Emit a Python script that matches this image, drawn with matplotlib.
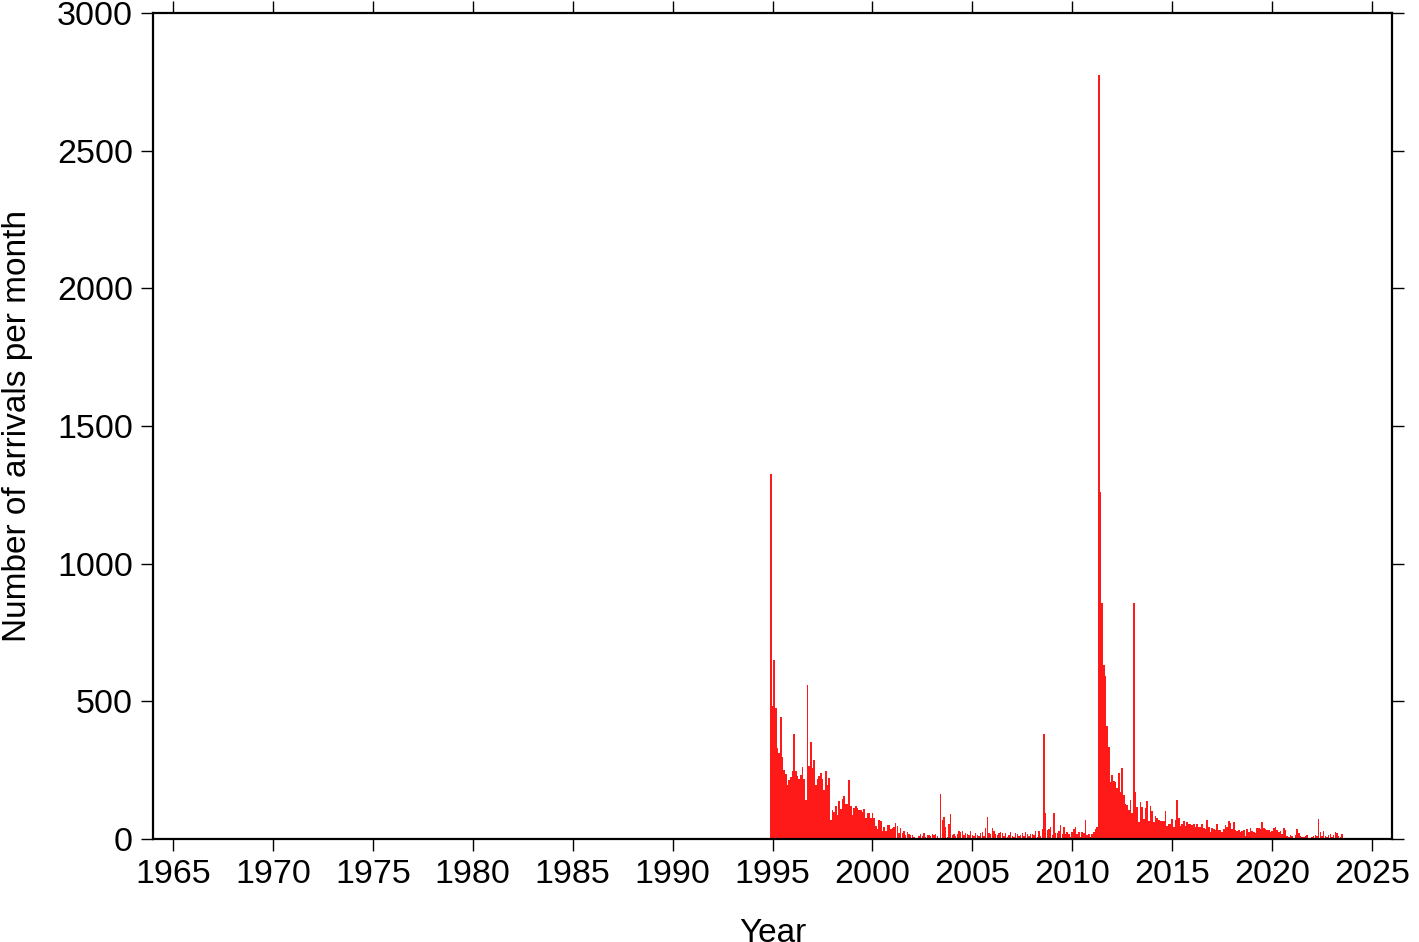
import numpy as np
import matplotlib.pyplot as plt

plt.rcParams['font.family'] = ['Liberation Sans', 'DejaVu Sans']

# monthly counts, first bar = Dec 1994
start_year = 1994 + 11/12

counts_1994_2000 = [1326, 482, 650, 476, 329, 313, 444, 299, 250, 236, 197, 214,
                    224, 246, 381, 246, 230, 217, 232, 260, 219, 142, 560, 265,
                    351, 258, 287, 197, 217, 229, 240, 219, 177, 248, 197, 223,
                    69, 107, 98, 121, 86, 138, 110, 144, 157, 127, 128, 215,
                    121, 87, 113, 120, 114, 104, 107, 97, 110, 77, 96, 94,
                    77, 94, 77, 47, 38, 70, 67, 28, 42, 30, 52]

counts_2000_2008 = [51, 35, 40, 42, 58, 47, 21, 39, 22, 30, 16, 24,
                    18, 15, 15, 8, 4, 2, 12, 18, 12, 21, 7, 16,
                    15, 11, 18, 15, 18, 11, 2, 163, 70, 79, 42, 6,
                    54, 91, 16, 18, 12, 18, 30, 24, 30, 16, 21, 18,
                    16, 30, 13, 12, 21, 15, 12, 21, 24, 12, 40, 79,
                    21, 18, 40, 30, 18, 15, 23, 27, 21, 12, 21, 8,
                    15, 27, 12, 6, 21, 18, 10, 15, 21, 12, 24, 18,
                    10, 18, 18, 15, 28, 6, 30, 10, 35, 380]

counts_2008_2013 = [96, 33, 38, 45, 15, 96, 20, 20, 29, 51, 18, 45,
                    18, 24, 18, 9, 27, 36, 42, 18, 27, 9, 24, 20,
                    69, 13, 18, 9, 18, 24, 36, 42,
                    2775, 1261, 857, 633, 591, 409, 333, 206, 233, 209, 206, 187,
                    238, 169, 257, 160, 127, 124, 106, 142, 96, 857]

counts_2013_2023 = [172, 117, 60, 136, 115, 73, 111, 139, 67, 121,
                    103, 61, 84, 76, 69, 67, 64, 64, 103, 48,
                    54, 54, 73, 45, 70, 142, 76, 48, 54, 64,
                    48, 63, 54, 54, 51, 54, 45, 54, 45, 45,
                    54, 40, 35, 69, 45, 24, 40, 36, 33, 54,
                    33, 33, 24, 36, 52, 45, 64, 57, 36, 61,
                    34, 30, 33, 24, 30, 33, 10, 36, 24, 40,
                    30, 24, 21, 40, 40, 36, 63, 40, 36, 33,
                    33, 24, 30, 40, 45, 33, 24, 30, 18, 40,
                    33, 12, 6, 15, 10, 2, 16, 36, 21, 12,
                    8, 8, 10, 15, 2, 4, 8, 10, 15, 12,
                    73, 24, 12, 28, 12, 8, 15, 18, 6, 15,
                    24, 21, 12, 8, 18]

counts = counts_1994_2000 + counts_2000_2008 + counts_2008_2013 + counts_2013_2023
years = start_year + np.arange(len(counts)) / 12

fig = plt.figure(figsize=(14.19, 9.42), dpi=100)
ax = fig.add_axes([153/1419, 1 - 839/942, (1392-153)/1419, (839-13)/942])

ax.bar(years, counts, width=0.92/12, color='#ff1a1a', linewidth=0)

ax.set_xlim(1964, 2026)
ax.set_ylim(0, 3000)
ax.set_xticks(np.arange(1965, 2026, 5))
ax.set_yticks(np.arange(0, 3001, 500))

# GMT style frame: outward ticks on all four sides
ax.tick_params(direction='out', length=8.5, width=1, labelsize=24.5, pad=6,
               top=True, right=True)
for s in ax.spines.values():
    s.set_linewidth(1.6)

ax.set_xlabel('Year', fontsize=24, labelpad=20)
ax.set_ylabel('Number of arrivals per month', fontsize=24, labelpad=17)

plt.savefig('out.png', dpi=100)
